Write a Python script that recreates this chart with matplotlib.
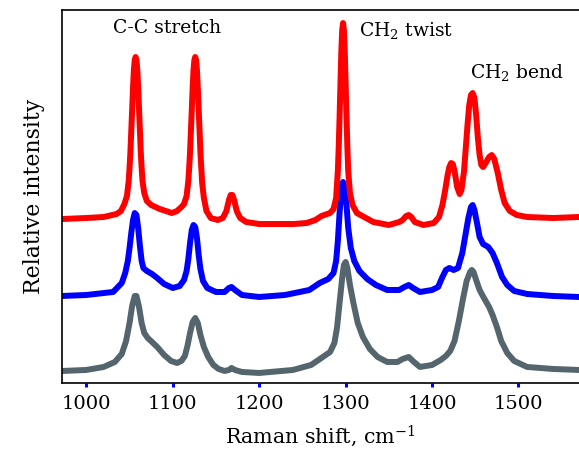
import matplotlib
matplotlib.use("Agg")
import matplotlib.pyplot as plt

plt.rcParams['font.family'] = 'DejaVu Serif'
plt.rcParams['mathtext.fontset'] = 'dejavuserif'

# red trace (top)
red_x = [972, 1000, 1020, 1035, 1040, 1044, 1047, 1049, 1050, 1051, 1052, 1053, 1054, 1055,
         1056, 1057, 1058, 1059, 1060, 1061, 1062, 1063, 1064, 1065, 1067, 1070, 1075, 1085,
         1099, 1105, 1110, 1113, 1116, 1118, 1119, 1120, 1121, 1122, 1123, 1124, 1125, 1126,
         1127, 1128, 1129, 1130, 1131, 1132, 1133, 1134, 1136, 1139, 1144, 1152, 1158, 1162,
         1165, 1167, 1169, 1171, 1174, 1178, 1185, 1200, 1240, 1255, 1265, 1272, 1282, 1286,
         1289, 1291, 1292, 1293, 1294, 1295, 1296, 1297, 1298, 1299, 1300, 1301, 1302, 1303,
         1305, 1308, 1313, 1332, 1350, 1362, 1366, 1370, 1373, 1376, 1380, 1390, 1402, 1408,
         1412, 1415, 1418, 1420, 1422, 1424, 1426, 1429, 1432, 1434, 1437, 1439, 1441, 1443,
         1445, 1447, 1449, 1451, 1453, 1455, 1457, 1459, 1462, 1466, 1469, 1472, 1476, 1480,
         1484, 1490, 1498, 1510, 1540, 1570]
red_y = [164, 165, 166, 169, 172, 179, 187, 202, 215, 231, 251, 273, 295, 313,
         323, 326, 323, 313, 295, 273, 251, 231, 215, 202, 190, 182, 178, 174,
         170, 172, 176, 179, 187, 202, 215, 231, 251, 273, 295, 313, 323, 326,
         323, 313, 295, 273, 251, 231, 215, 200, 185, 172, 165, 163, 165, 172,
         183, 188, 188, 183, 172, 165, 161, 159, 159, 160, 163, 167, 170, 174,
         185, 212, 236, 266, 300, 331, 353, 360, 353, 331, 300, 266, 236, 212,
         190, 178, 170, 161, 158, 161, 163, 167, 168, 166, 161, 158, 160, 166,
         178, 192, 208, 216, 220, 219, 212, 196, 189, 193, 212, 235, 258, 278,
         288, 290, 285, 268, 245, 228, 218, 216, 220, 226, 228, 224, 210, 193,
         180, 172, 168, 166, 165, 166]

# blue trace (middle)
blue_x = [972, 1000, 1031, 1041, 1045, 1048, 1050, 1052, 1054, 1056, 1058, 1060, 1062, 1064,
          1066, 1070, 1076, 1082, 1090, 1100, 1108, 1113, 1116, 1118, 1120, 1122, 1124, 1126,
          1128, 1130, 1132, 1135, 1140, 1150, 1160, 1165, 1168, 1172, 1180, 1200, 1230, 1258,
          1270, 1280, 1286, 1289, 1291, 1293, 1295, 1297, 1299, 1301, 1303, 1306, 1310, 1316,
          1325, 1335, 1348, 1362, 1368, 1373, 1378, 1386, 1400, 1407, 1412, 1416, 1420, 1425,
          1430, 1435, 1439, 1442, 1445, 1447, 1449, 1452, 1455, 1459, 1465, 1470, 1475, 1481,
          1487, 1495, 1510, 1540, 1570]
blue_y = [87, 88, 91, 100, 110, 122, 135, 150, 163, 170, 168, 155, 137, 122,
          115, 112, 109, 105, 99, 95, 97, 103, 112, 124, 140, 153, 158, 156,
          145, 128, 114, 102, 95, 91, 91, 95, 96, 93, 88, 86, 88, 93,
          100, 104, 110, 122, 142, 170, 192, 201, 195, 178, 155, 135, 122, 112,
          104, 98, 93, 93, 96, 98, 95, 91, 93, 96, 106, 113, 115, 113,
          115, 130, 150, 165, 176, 178, 173, 160, 146, 139, 136, 130, 120, 106,
          98, 92, 89, 87, 86]

# gray trace (bottom)
gray_x = [972, 1000, 1020, 1033, 1041, 1046, 1050, 1053, 1056, 1058, 1061, 1064, 1067, 1071,
          1076, 1082, 1090, 1098, 1105, 1110, 1114, 1117, 1120, 1123, 1126, 1129, 1132, 1136,
          1141, 1147, 1153, 1160, 1165, 1168, 1172, 1180, 1200, 1239, 1260, 1272, 1282, 1287,
          1290, 1293, 1296, 1298, 1300, 1302, 1305, 1309, 1314, 1320, 1328, 1337, 1348, 1360,
          1366, 1373, 1379, 1386, 1400, 1410, 1416, 1421, 1426, 1431, 1436, 1440, 1444, 1446,
          1448, 1451, 1455, 1460, 1466, 1470, 1475, 1480, 1487, 1495, 1510, 1540, 1570]
gray_y = [12, 13, 16, 21, 29, 42, 60, 77, 87, 87, 76, 60, 50, 45,
          41, 36, 28, 22, 20, 22, 27, 37, 50, 61, 65, 60, 48, 36,
          26, 18, 14, 12, 13, 15, 13, 11, 10, 13, 18, 25, 31, 40,
          55, 80, 105, 118, 121, 115, 98, 80, 60, 46, 34, 26, 21, 21,
          24, 26, 21, 16, 18, 23, 27, 32, 42, 62, 85, 102, 111, 113,
          111, 103, 93, 85, 76, 68, 56, 42, 30, 22, 16, 14, 13]

colors = ['#ff0000', '#0000ff', '#55656d']
baselines = [165, 87, 12]

fig = plt.figure(figsize=(5.79, 4.57), dpi=100)
ax = fig.add_axes([0.107, 0.162, 0.893, 0.816])

style = dict(lw=4.3, solid_joinstyle='round', solid_capstyle='round')
ax.plot(gray_x, gray_y, color=colors[2], **style)
ax.plot(blue_x, blue_y, color=colors[1], **style)
ax.plot(red_x, red_y, color=colors[0], **style)

ax.set_xlim(971.8, 1570)
ax.set_ylim(0, 373)

ax.set_xticks([1000, 1100, 1200, 1300, 1400, 1500])
ax.tick_params(axis='x', direction='out', length=3, width=2.2, color='#0000ff',
               labelsize=14, pad=6)
ax.set_yticks(baselines)
ax.set_yticklabels([])
ax.tick_params(axis='y', direction='in', length=5, width=2.2)
for t, c in zip(ax.yaxis.get_major_ticks(), colors):
    t.tick1line.set_color(c)

ax.spines['right'].set_visible(False)
for s in ['left', 'top', 'bottom']:
    ax.spines[s].set_linewidth(1.2)

ax.set_xlabel('Raman shift, cm$^{-1}$', fontsize=14.8, labelpad=7)
ax.set_ylabel('Relative intensity', fontsize=15.8, labelpad=9)

ax.text(1093, 355, 'C-C stretch', fontsize=13.5, ha='center', va='center')
ax.text(1315, 353, 'CH$_2$ twist', fontsize=13.5, ha='left', va='center')
ax.text(1444, 311, 'CH$_2$ bend', fontsize=13.5, ha='left', va='center')

fig.savefig('out.png', dpi=100)
